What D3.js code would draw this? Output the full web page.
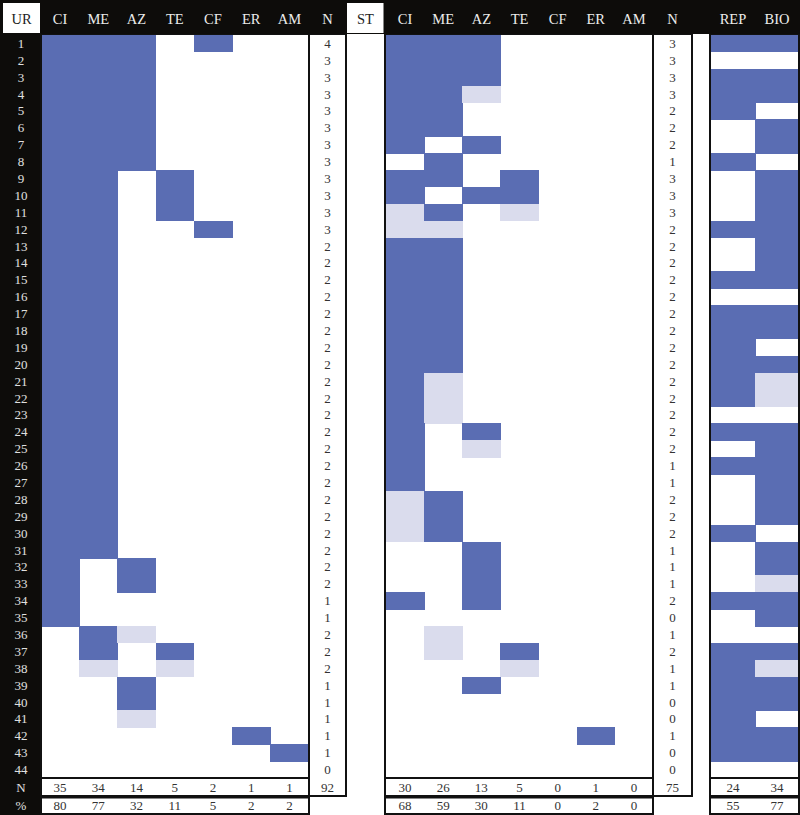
<!DOCTYPE html>
<html>
<head>
  <meta charset="utf-8">
  <title>UR / ST grid</title>
  <script src="https://cdn.jsdelivr.net/npm/d3@7"></script>
  <style>
    body { margin: 0; background: #fff; }
    svg text { font-family: "Liberation Serif", "DejaVu Serif", serif; }
  </style>
</head>
<body>
  <svg id="chart" width="800" height="815"></svg>
  <script>
    // categories
    const cols = ["CI", "ME", "AZ", "TE", "CF", "ER", "AM"];
    const extraCols = ["REP", "BIO"];
    const rowIds = [1,2,3,4,5,6,7,8,9,10,11,12,13,14,15,16,17,18,19,20,21,22,
                    23,24,25,26,27,28,29,30,31,32,33,34,35,36,37,38,39,40,41,42,43,44];

    // 0 = empty, 1 = present, 2 = partial (light)
    const urGrid = [
      "1110100","1110000","1110000","1110000","1110000","1110000","1110000","1110000",
      "1101000","1101000","1101000","1100100",
      "1100000","1100000","1100000","1100000","1100000","1100000","1100000","1100000",
      "1100000","1100000","1100000","1100000","1100000","1100000","1100000","1100000",
      "1100000","1100000","1100000",
      "1010000","1010000","1000000","1000000",
      "0120000","0101000","0202000","0010000","0010000","0020000",
      "0000010","0000001","0000000"
    ];
    const stGrid = [
      "1110000","1110000","1110000","1120000","1100000","1100000","1010000","0100000",
      "1101000","1011000","2102000","2200000",
      "1100000","1100000","1100000","1100000","1100000","1100000","1100000","1100000",
      "1200000","1200000","1200000","1010000","1020000","1000000","1000000",
      "2100000","2100000","2100000",
      "0010000","0010000","0010000","1010000","0000000",
      "0200000","0201000","0002000","0010000","0000000","0000000",
      "0000010","0000000","0000000"
    ];
    const rbGrid = [
      "11","00","11","11","10","01","01","10","01","01","01","11","01","01","11","00",
      "11","11","10","11","12","12","00","11","01","11","01","01","01","10",
      "01","01","02","11","01","00","11","12","11","11","10","11","11","00"
    ];

    const urN = [4,3,3,3,3,3,3,3,3,3,3,3,2,2,2,2,2,2,2,2,2,2,2,2,2,2,2,2,2,2,2,2,2,1,1,2,2,2,1,1,1,1,1,0];
    const stN = [3,3,3,3,2,2,2,1,3,3,3,2,2,2,2,2,2,2,2,2,2,2,2,2,2,1,1,2,2,2,1,1,1,2,0,1,2,1,1,0,0,1,0,0];

    const urTotals = [35,34,14,5,2,1,1];
    const urPct = [80,77,32,11,5,2,2];
    const urSum = 92;
    const stTotals = [30,26,13,5,0,1,0];
    const stPct = [68,59,30,11,0,2,0];
    const stSum = 75;
    const rbTotals = [24,34];
    const rbPct = [55,77];

    const DARK = "#5a6db3";
    const LIGHT = "#dadced";
    const INK = "#111";

    const svg = d3.select("#chart");
    const W = 800, H = 815;

    const y = d3.scaleBand().domain(rowIds).range([35, 778]);
    const yFoot = d3.scaleBand().domain(["N", "%"]).range([778, 815]);
    const xL = d3.scaleBand().domain(cols).range([41, 308.5]);
    const xM = d3.scaleBand().domain(cols).range([386, 653]);
    const xR = d3.scaleBand().domain(extraCols).range([711, 799]);
    const nLeftX = 327.5, stX = 365.5, nMidX = 672.5;

    svg.append("rect").attr("width", W).attr("height", H).attr("fill", "#fff");

    // cells
    function drawCells(grid, keys, x) {
      const cells = [];
      grid.forEach((row, i) => {
        row.split("").forEach((v, j) => {
          if (v !== "0") cells.push({ r: rowIds[i], c: keys[j], v: +v });
        });
      });
      svg.append("g")
        .attr("shape-rendering", "crispEdges")
        .selectAll("rect")
        .data(cells)
        .enter()
        .append("rect")
        .attr("x", d => x(d.c))
        .attr("y", d => y(d.r))
        .attr("width", x.bandwidth() + 0.5)
        .attr("height", y.bandwidth() + 0.5)
        .attr("fill", d => d.v === 1 ? DARK : LIGHT);
    }
    drawCells(urGrid, cols, xL);
    drawCells(stGrid, cols, xM);
    drawCells(rbGrid, extraCols, xR);

    // header band + label column
    svg.append("rect").attr("x", 0).attr("y", 0).attr("width", W).attr("height", 34).attr("fill", "#0d0c0a");
    svg.append("rect").attr("x", 0).attr("y", 0).attr("width", 41).attr("height", H).attr("fill", "#0d0c0a");
    svg.append("rect").attr("x", 3).attr("y", 3).attr("width", 37).attr("height", 30).attr("fill", "#fff");

    // boxes
    const boxes = [
      [41, 34, 309, 778], [309, 34, 346, 796], [41, 778, 309, 796], [41, 797.5, 309, 814],
      [385, 34, 653, 778], [653, 34, 692, 796], [385, 778, 653, 796], [385, 797.5, 653, 814],
      [710, 34, 799, 778], [710, 778, 799, 796], [710, 797.5, 799, 814]
    ];
    svg.append("g")
      .selectAll("rect")
      .data(boxes)
      .enter()
      .append("rect")
      .attr("x", d => d[0])
      .attr("y", d => d[1])
      .attr("width", d => d[2] - d[0])
      .attr("height", d => d[3] - d[1])
      .attr("fill", "none")
      .attr("stroke", INK)
      .attr("stroke-width", 2);

    // redraw header on top of box tops
    svg.append("rect").attr("x", 41).attr("y", 0).attr("width", W - 41).attr("height", 34).attr("fill", "#0d0c0a");
    svg.append("rect").attr("x", 347).attr("y", 3).attr("width", 36.5).attr("height", 30).attr("fill", "#fff");

    // header labels
    const head = svg.append("g")
      .attr("font-size", 14.5)
      .attr("text-anchor", "middle")
      .attr("dominant-baseline", "central");
    const headItems = [{ t: "UR", x: 21.5, dark: true }]
      .concat(cols.map(c => ({ t: c, x: xL(c) + xL.bandwidth() / 2 })))
      .concat([{ t: "N", x: nLeftX }, { t: "ST", x: stX, dark: true }])
      .concat(cols.map(c => ({ t: c, x: xM(c) + xM.bandwidth() / 2 })))
      .concat([{ t: "N", x: nMidX }])
      .concat(extraCols.map(c => ({ t: c, x: xR(c) + xR.bandwidth() / 2 })));
    head.selectAll("text")
      .data(headItems)
      .enter()
      .append("text")
      .attr("x", d => d.x)
      .attr("y", 19)
      .attr("fill", d => d.dark ? "#222" : "#ececec")
      .text(d => d.t);

    // row labels
    svg.append("g")
      .attr("font-size", 13)
      .attr("text-anchor", "middle")
      .attr("dominant-baseline", "central")
      .attr("fill", "#e0e0e0")
      .selectAll("text")
      .data(rowIds.map(String).concat(["N", "%"]))
      .enter()
      .append("text")
      .attr("x", 21)
      .attr("y", (d, i) => i < rowIds.length ? y(rowIds[i]) + y.bandwidth() / 2 : yFoot(d) + yFoot.bandwidth() / 2)
      .text(d => d);

    // row N counts
    const nums = svg.append("g")
      .attr("font-size", 13)
      .attr("text-anchor", "middle")
      .attr("dominant-baseline", "central")
      .attr("fill", "#333");
    nums.selectAll(".nl").data(urN).enter().append("text")
      .attr("x", nLeftX).attr("y", (d, i) => y(rowIds[i]) + y.bandwidth() / 2).text(d => d);
    nums.selectAll(".nm").data(stN).enter().append("text")
      .attr("x", nMidX).attr("y", (d, i) => y(rowIds[i]) + y.bandwidth() / 2).text(d => d);

    // footer totals and percentages
    const foot = [];
    cols.forEach((c, i) => {
      foot.push({ x: xL(c) + xL.bandwidth() / 2, r: "N", t: urTotals[i] });
      foot.push({ x: xL(c) + xL.bandwidth() / 2, r: "%", t: urPct[i] });
      foot.push({ x: xM(c) + xM.bandwidth() / 2, r: "N", t: stTotals[i] });
      foot.push({ x: xM(c) + xM.bandwidth() / 2, r: "%", t: stPct[i] });
    });
    extraCols.forEach((c, i) => {
      foot.push({ x: xR(c) + xR.bandwidth() / 2, r: "N", t: rbTotals[i] });
      foot.push({ x: xR(c) + xR.bandwidth() / 2, r: "%", t: rbPct[i] });
    });
    foot.push({ x: nLeftX, r: "N", t: urSum });
    foot.push({ x: nMidX, r: "N", t: stSum });
    nums.selectAll(".ft").data(foot).enter().append("text")
      .attr("x", d => d.x)
      .attr("y", d => yFoot(d.r) + yFoot.bandwidth() / 2)
      .text(d => d.t);
  </script>
</body>
</html>
